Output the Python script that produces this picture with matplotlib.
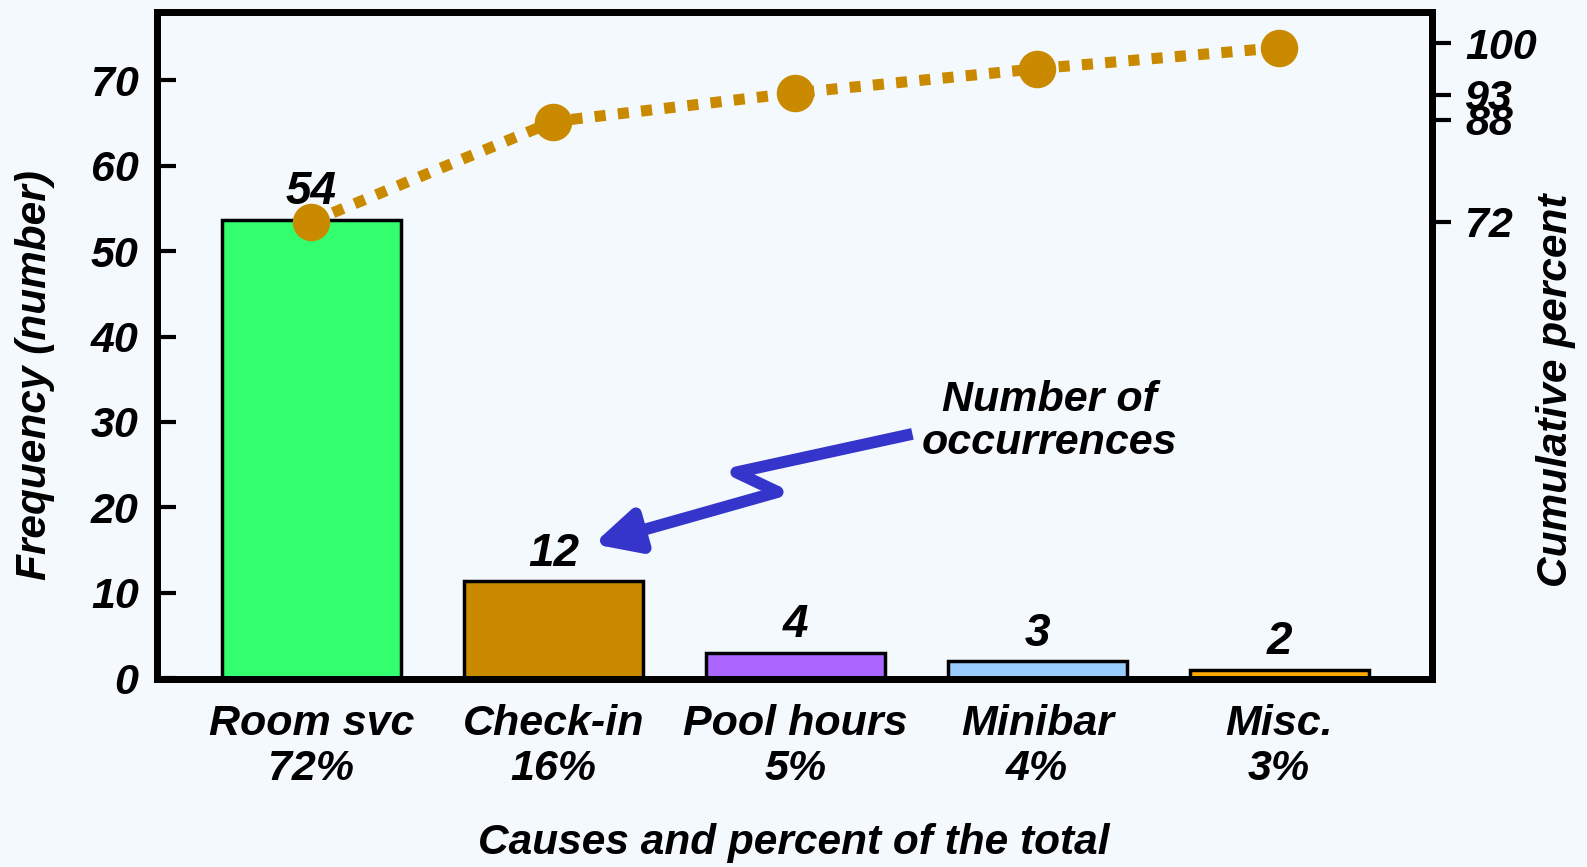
import matplotlib
matplotlib.use("Agg")
import matplotlib.pyplot as plt
import numpy as np

plt.rcParams['font.family'] = ['Liberation Sans', 'DejaVu Sans']
plt.rcParams['font.weight'] = 'bold'
plt.rcParams['font.style'] = 'italic'

# data
categories = ['Room svc', 'Check-in', 'Pool hours', 'Minibar', 'Misc.']
shares = ['72%', '16%', '5%', '4%', '3%']
count_labels = ['54', '12', '4', '3', '2']
bar_heights = [53.7, 11.4, 3.0, 2.0, 1.0]
bar_colors = ['#33ff6e', '#c98a00', '#aa66ff', '#99ccff', '#ffaa00']
cum_pct = [71.8, 87.5, 92.0, 95.8, 99.1]
right_ticks = [71.8, 87.8, 91.7, 99.8]
right_labels = ['72', '88', '93', '100']
left_ticks = [0, 10, 20, 30, 40, 50, 60, 70]

bg = '#f4f9fd'
gold = '#c98a00'

fig = plt.figure(figsize=(15.87, 8.67), dpi=100, facecolor=bg)
ax = fig.add_axes([0.0987, 0.2168, 0.8034, 0.7694])
ax.set_facecolor(bg)

x = np.arange(len(categories))
ax.bar(x, bar_heights, width=0.74, color=bar_colors, edgecolor='black', linewidth=2.5, zorder=2)
for xi, h, lab in zip(x, bar_heights, count_labels):
    ax.annotate(lab, (xi, h), xytext=(0, 11), textcoords='offset points',
                ha='center', va='baseline', fontsize=33)

ax.set_xlim(-0.64, 4.63)
ax.set_ylim(-0.1, 78)
ax.set_yticks(left_ticks)
ax.tick_params(axis='y', direction='in', length=14, width=3, labelsize=31, pad=13)
ax.set_xticks(x)
ax.set_xticklabels([c + '\n' + s for c, s in zip(categories, shares)], fontsize=31, linespacing=1.17)
ax.tick_params(axis='x', length=0, pad=18)
for s in ax.spines.values():
    s.set_linewidth(5)

ax2 = ax.twinx()
ax2.set_ylim(0, 104.7)
ax2.plot(x, cum_pct, color=gold, linewidth=8, linestyle=(0, (1, 1.1)),
         dash_capstyle='butt', marker='o', markersize=26, zorder=3)
ax2.set_yticks(right_ticks)
ax2.set_yticklabels(right_labels)
ax2.tick_params(axis='y', direction='out', length=14, width=3, labelsize=31, pad=10)
for s in ax2.spines.values():
    s.set_linewidth(5)

# callout arrow
blue = '#3535cc'
ax.plot([2.484, 1.756, 1.927], [28.6, 24.1, 21.8], color=blue, linewidth=8.5,
        solid_joinstyle='round', solid_capstyle='butt', zorder=4)
ax.annotate('', xy=(1.165, 15.7), xytext=(1.927, 21.8),
            arrowprops=dict(arrowstyle='-|>,head_length=1.3,head_width=0.65', color=blue,
                            lw=8.5, shrinkA=0, shrinkB=0, mutation_scale=20), zorder=4)
ax.text(3.05, 30.0, 'Number of\noccurrences', ha='center', va='center', fontsize=31,
        linespacing=1.1, zorder=5)

fig.text(0.5003, 1 - 843 / 867, 'Causes and percent of the total', ha='center', va='center', fontsize=30.5)
fig.text(35 / 1587, 1 - 375 / 867, 'Frequency (number)', rotation=90, ha='center', va='center', fontsize=30.5)
fig.text(1556 / 1587, 1 - 390 / 867, 'Cumulative percent', rotation=90, ha='center', va='center', fontsize=30.5)

fig.savefig('out.png', dpi=100, facecolor=bg)
